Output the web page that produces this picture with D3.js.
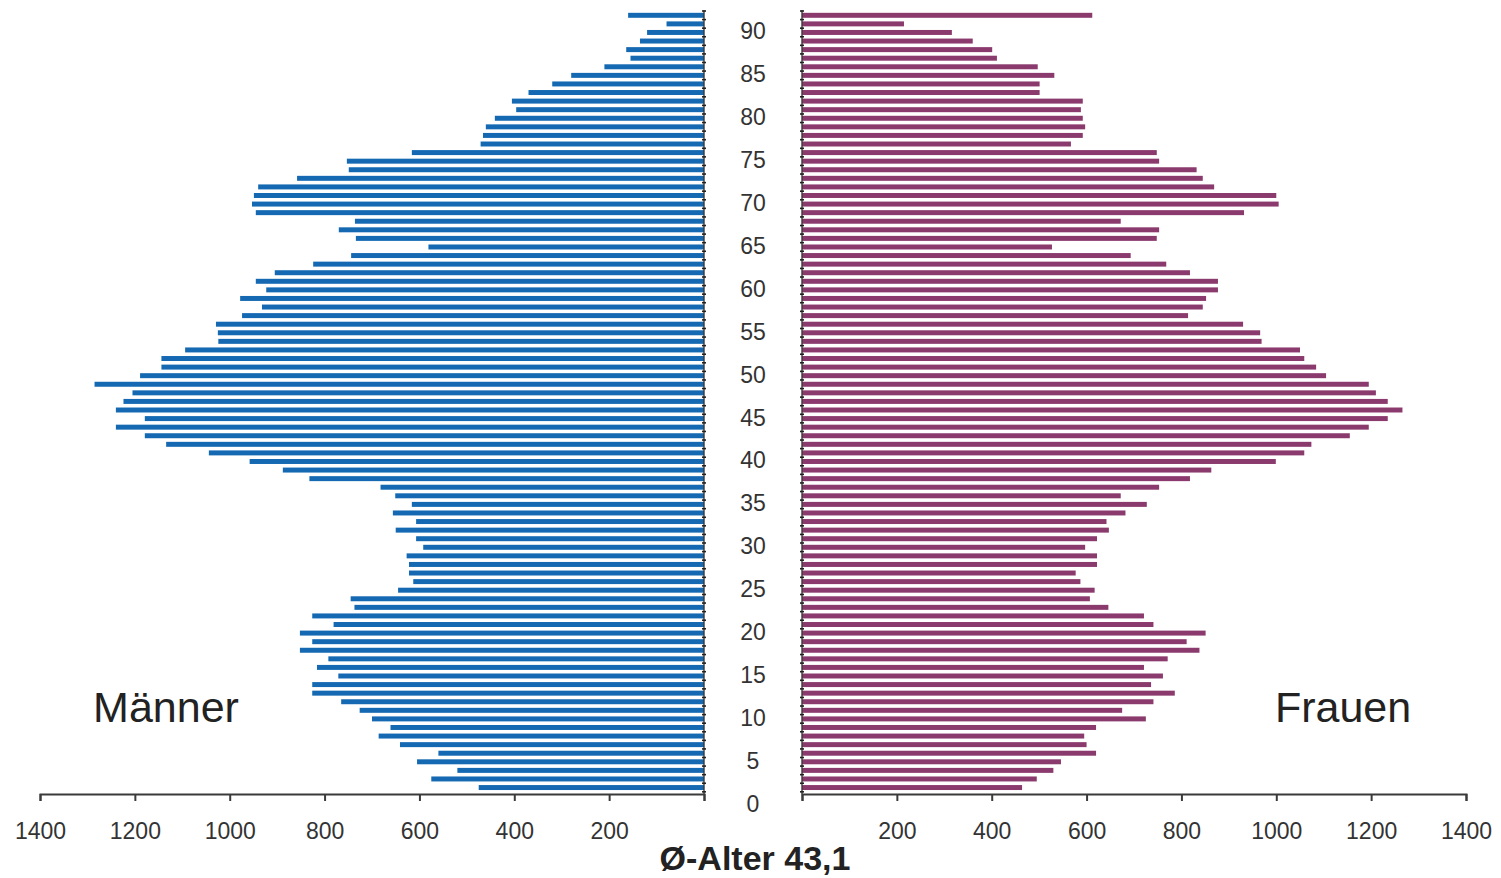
<!DOCTYPE html>
<html>
<head>
<meta charset="utf-8">
<script src="https://cdn.jsdelivr.net/npm/d3@7"></script>
<style>
  html, body { margin: 0; padding: 0; background: #ffffff; }
  svg { display: block; }
  text { font-family: "Liberation Sans", Arial, sans-serif; }
</style>
</head>
<body>
<svg id="chart" width="1501" height="878"></svg>
<script>
// ---- data ----
const ages = [2,3,4,5,6,7,8,9,10,11,12,13,14,15,16,17,18,19,20,21,22,23,24,25,26,27,28,29,30,31,32,33,34,35,36,37,38,39,40,41,42,43,44,45,46,47,48,49,50,51,52,53,54,55,56,57,58,59,60,61,62,63,64,65,66,67,68,69,70,71,72,73,74,75,76,77,78,79,80,81,82,83,84,85,86,87,88,89,90,91,92];

const maenner = [475,575,520,605,560,641,686,661,700,726,765,826,826,771,816,792,852,826,852,781,826,737,745,645,613,622,622,627,592,607,650,607,656,616,651,682,832,888,958,1044,1134,1179,1240,1179,1240,1224,1205,1285,1189,1144,1144,1094,1024,1025,1029,974,932,978,923,945,905,824,744,581,734,770,736,945,953,949,940,858,749,753,616,471,466,460,441,396,405,370,320,280,210,155,164,135,120,79,160];

const frauen = [464,495,530,546,620,600,595,620,725,675,741,786,736,761,721,771,838,811,851,741,721,646,607,617,587,577,622,622,597,622,647,642,682,727,672,753,818,863,999,1059,1074,1155,1195,1235,1266,1235,1210,1195,1105,1084,1059,1050,969,966,930,814,845,852,877,877,818,768,693,527,748,753,672,932,1005,1000,869,845,832,753,748,567,592,597,592,588,592,501,501,532,497,411,401,360,316,215,612];

const ageTickLabels = [0,5,10,15,20,25,30,35,40,45,50,55,60,65,70,75,80,85,90];
const valueTicks = [0,200,400,600,800,1000,1200,1400];
const labelMaenner = "Männer";
const labelFrauen = "Frauen";
const footer = "Ø-Alter 43,1";

// ---- layout ----
const svg = d3.select("#chart");
const colM = "#1469b2";
const colF = "#8b3a6e";
const axisCol = "#3a3a3a";

const xL = d3.scaleLinear().domain([0, 1400]).range([704, 40]);
const xR = d3.scaleLinear().domain([0, 1400]).range([802, 1466]);
const y  = d3.scaleLinear().domain([0, 92]).range([804.7, 15.3]);
const step = Math.abs(y(1) - y(0));
const barH = step * 0.58;
const axisY = y(1.25);
const topY = y(92.6);

const rows = ages.map((a, i) => ({ age: a, m: maenner[i], f: frauen[i] }));

// bars
svg.append("g").selectAll("rect").data(rows).join("rect")
  .attr("x", d => xL(d.m))
  .attr("y", d => y(d.age) - barH / 2)
  .attr("width", d => xL(0) - xL(d.m))
  .attr("height", barH)
  .attr("fill", colM);

svg.append("g").selectAll("rect").data(rows).join("rect")
  .attr("x", xR(0))
  .attr("y", d => y(d.age) - barH / 2)
  .attr("width", d => xR(d.f) - xR(0))
  .attr("height", barH)
  .attr("fill", colF);

// vertical category axes (dotted look from per-category ticks)
[xL(0), xR(0)].forEach(x0 => {
  const g = svg.append("g");
  g.append("line").attr("x1", x0).attr("x2", x0).attr("y1", topY).attr("y2", axisY)
    .attr("stroke", axisCol).attr("stroke-width", 1.4);
  g.selectAll("line.t").data(ages.concat([1])).join("line")
    .attr("class", "t")
    .attr("x1", x0 - 2).attr("x2", x0 + 2)
    .attr("y1", d => y(d + 0.5)).attr("y2", d => y(d + 0.5))
    .attr("stroke", "#222").attr("stroke-width", 1.6);
});

// horizontal value axes
function styleAxis(g) {
  g.select(".domain").attr("stroke", axisCol).attr("stroke-width", 2);
  g.selectAll(".tick line").attr("stroke", axisCol).attr("stroke-width", 2);
  g.selectAll(".tick text")
    .attr("fill", "#333")
    .style("font-size", "23px")
    .attr("dy", "0")
    .attr("y", 45);
}
const axL = d3.axisBottom(xL).tickValues(valueTicks).tickSizeOuter(0).tickSize(7)
  .tickFormat(d => d === 0 ? "" : d);
const axR = d3.axisBottom(xR).tickValues(valueTicks).tickSizeOuter(0).tickSize(7)
  .tickFormat(d => d === 0 ? "" : d);
svg.append("g").attr("transform", `translate(0,${axisY})`).call(axL).call(styleAxis);
svg.append("g").attr("transform", `translate(0,${axisY})`).call(axR).call(styleAxis);

// age labels in the middle
svg.append("g").selectAll("text").data(ageTickLabels).join("text")
  .attr("x", (xL(0) + xR(0)) / 2)
  .attr("y", d => y(d) - 1)
  .attr("text-anchor", "middle")
  .attr("dominant-baseline", "central")
  .attr("fill", "#333")
  .style("font-size", "23px")
  .text(d => d);

// series labels
svg.append("text").attr("x", 166).attr("y", 722).attr("text-anchor", "middle")
  .attr("fill", "#222").style("font-size", "43px").text(labelMaenner);
svg.append("text").attr("x", 1343).attr("y", 722).attr("text-anchor", "middle")
  .attr("fill", "#222").style("font-size", "43px").text(labelFrauen);

// footer
svg.append("text").attr("x", 755).attr("y", 870).attr("text-anchor", "middle")
  .attr("fill", "#222").style("font-size", "34px").style("font-weight", "bold").text(footer);
</script>
</body>
</html>
